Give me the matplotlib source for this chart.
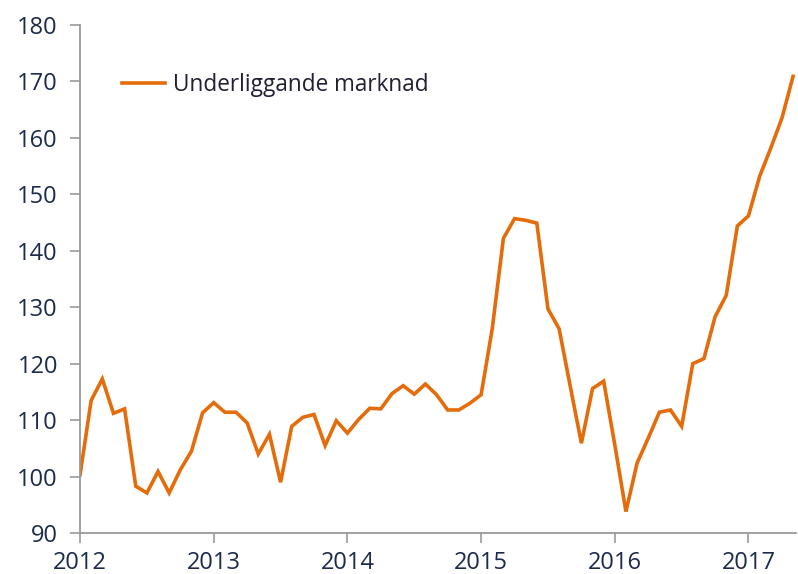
import matplotlib.pyplot as plt

# monthly values, Jan 2012 .. May 2017
values_2012 = [100.3, 113.5, 117.3, 111.2, 112.0, 98.3, 97.1, 100.9, 97.1, 101.2, 104.5, 111.3]
values_2013 = [113.1, 111.4, 111.4, 109.5, 104.0, 107.5, 99.0, 108.9, 110.5, 111.0, 105.5, 109.9]
values_2014 = [107.7, 110.1, 112.1, 112.0, 114.7, 116.1, 114.6, 116.4, 114.5, 111.8, 111.8, 113.0]
values_2015 = [114.5, 126.2, 142.2, 145.7, 145.4, 144.9, 129.7, 126.2, 116.0, 105.9, 115.6, 116.9]
values_2016 = [105.6, 93.8, 102.4, 106.8, 111.4, 111.8, 108.9, 120.0, 120.9, 128.3, 132.1, 144.4]
values_2017 = [146.2, 153.2, 158.2, 163.5, 170.9]

values = values_2012 + values_2013 + values_2014 + values_2015 + values_2016 + values_2017
months = list(range(len(values)))

year_labels = ['2012', '2013', '2014', '2015', '2016', '2017']
y_ticks = [90, 100, 110, 120, 130, 140, 150, 160, 170, 180]
series_name = 'Underliggande marknad'

plt.rcParams['font.family'] = ['Open Sans', 'DejaVu Sans']

fig = plt.figure(figsize=(7.98, 5.74), dpi=100)
ax = fig.add_axes([0.1003, 0.0714, 0.897, 0.885])

ax.plot(months, values, color='#E46C0A', linewidth=2.6, label=series_name,
        solid_joinstyle='miter')

ax.set_xlim(0, 64.25)
ax.set_ylim(90, 180)
ax.set_xticks([12 * i for i in range(len(year_labels))])
ax.set_xticklabels(year_labels)
ax.set_yticks(y_ticks)

for side in ['top', 'right']:
    ax.spines[side].set_visible(False)
for side in ['left', 'bottom']:
    ax.spines[side].set_color('#9a9a9a')
    ax.spines[side].set_linewidth(1.3)

ax.tick_params(axis='both', colors='#9a9a9a', length=7, width=1.2,
               labelsize=17, labelcolor='#1c2a4c')
ax.tick_params(axis='y', pad=9)
ax.tick_params(axis='x', pad=6)

leg = ax.legend(loc='upper left', bbox_to_anchor=(0.03, 0.945), frameon=False,
                fontsize=16.3, handlelength=1.9, handletextpad=0.35)
for t in leg.get_texts():
    t.set_color('#231f33')

fig.savefig('out.png', dpi=100)
